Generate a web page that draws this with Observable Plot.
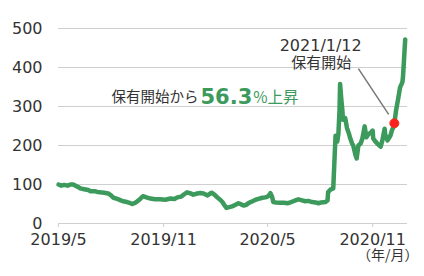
<!DOCTYPE html>
<html>
<head>
<meta charset="utf-8">
<script src="https://cdn.jsdelivr.net/npm/d3@7"></script>
<script src="https://cdn.jsdelivr.net/npm/@observablehq/plot@0.6"></script>
<style>
  html, body { margin: 0; padding: 0; background: #fff; }
</style>
</head>
<body>
<div id="chart"></div>
<script>
// ---- data ----
const dates = [
  "2019-05-01","2019-05-06","2019-05-11","2019-05-17","2019-05-22","2019-05-27","2019-05-31",
  "2019-06-05","2019-06-08","2019-06-15","2019-06-22","2019-06-26",
  "2019-07-03","2019-07-08","2019-07-13","2019-07-20","2019-07-27",
  "2019-08-01","2019-08-05","2019-08-12","2019-08-17","2019-08-22","2019-08-29",
  "2019-09-04","2019-09-07","2019-09-12","2019-09-16","2019-09-21","2019-09-26",
  "2019-10-02","2019-10-09","2019-10-17","2019-10-26",
  "2019-11-04","2019-11-13","2019-11-20","2019-11-25",
  "2019-12-02","2019-12-07","2019-12-12","2019-12-17","2019-12-23","2019-12-30",
  "2020-01-04","2020-01-10","2020-01-17","2020-01-24","2020-01-29",
  "2020-02-03","2020-02-08","2020-02-12","2020-02-15","2020-02-19","2020-02-24","2020-02-29",
  "2020-03-06","2020-03-11","2020-03-16","2020-03-20","2020-03-25","2020-03-28",
  "2020-04-03","2020-04-10","2020-04-15","2020-04-22","2020-04-27",
  "2020-05-01","2020-05-04","2020-05-06","2020-05-09","2020-05-11","2020-05-16","2020-05-23","2020-05-30",
  "2020-06-05","2020-06-10","2020-06-15","2020-06-20","2020-06-24","2020-06-29",
  "2020-07-06","2020-07-11","2020-07-18","2020-07-24","2020-07-29",
  "2020-08-03","2020-08-10","2020-08-14","2020-08-15","2020-08-19","2020-08-24","2020-08-28","2020-08-31",
  "2020-09-02","2020-09-04","2020-09-05","2020-09-07","2020-09-09","2020-09-10","2020-09-14","2020-09-17",
  "2020-09-21","2020-09-22","2020-09-26","2020-09-28",
  "2020-10-02","2020-10-04","2020-10-07","2020-10-11","2020-10-14","2020-10-18","2020-10-21","2020-10-25","2020-10-28",
  "2020-11-01","2020-11-02","2020-11-06","2020-11-09","2020-11-15","2020-11-18","2020-11-22","2020-11-23","2020-11-27",
  "2020-12-02","2020-12-05","2020-12-07","2020-12-09","2020-12-12","2020-12-16","2020-12-19","2020-12-23","2020-12-24",
  "2020-12-26","2020-12-28"
];
const values = [
  100,97,99,97,100,100,97,
  93,90,88,86,83,
  83,81,80,79,77,
  72,66,63,60,57,55,
  52,50,53,57,63,70,
  67,64,62,62,
  61,64,63,67,
  69,75,80,78,74,77,
  78,77,72,79,74,
  67,61,55,48,40,42,44,
  48,52,49,46,48,52,
  56,61,63,66,67,
  69,73,78,68,55,54,53,53,
  52,54,57,60,62,60,
  57,58,55,54,52,
  54,55,59,80,87,90,225,210,
  230,290,358,320,290,266,270,245,
  228,222,205,200,
  175,167,200,205,218,249,221,230,232,
  238,218,210,205,197,213,243,228,213,
  225,240,246,257,290,323,349,362,374,
  423,472
];
const tickDates = ["2019-05-01","2019-11-01","2020-05-01","2020-11-01"];
const tickLabels = ["2019/5","2019/11","2020/5","2020/11"];
const yTicks = [0,100,200,300,400,500];
const holdDate = "2020-12-09";
const holdValue = 257;
const holdLabel = "2021/1/12";
const holdText = "保有開始";
const riseLead = "保有開始から";
const risePct = "56.3";
const riseTail = "%上昇";
const unitLabel = "（年/月）";

// ---- build ----
const green = "#3b9a5c";
const data = dates.map((d, i) => ({date: new Date(d), value: values[i]}));
const tickMap = new Map(tickDates.map((d, i) => [+new Date(d), tickLabels[i]]));

const ctx = document.createElement("canvas").getContext("2d");
ctx.font = "bold 21px 'DejaVu Sans'";
const pctWidth = ctx.measureText(risePct).width;

const riseAnchor = [{date: new Date("2020-01-01"), value: 323}];
const noteDateAnchor = [{date: new Date("2020-08-02"), value: 456}];
const noteTextAnchor = [{date: new Date("2020-08-03"), value: 410}];
const leader = [{x1: new Date("2020-10-07"), y1: 397, x2: new Date("2020-11-29"), y2: 280}];

const chart = Plot.plot({
  width: 424,
  height: 276,
  marginLeft: 58,
  marginRight: 17,
  marginTop: 28,
  marginBottom: 53,
  style: {fontFamily: "'DejaVu Sans', 'Noto Sans CJK JP', sans-serif", fontSize: "16px", color: "#333", background: "#fff", overflow: "visible"},
  x: {type: "utc", domain: [new Date("2019-05-01"), new Date("2021-01-01")], label: null},
  y: {domain: [0, 500], label: null},
  marks: [
    Plot.gridY(yTicks, {stroke: "#cfcfcf", strokeOpacity: 1, strokeWidth: 1}),
    Plot.axisY(yTicks, {tickSize: 0, tickPadding: 16, fill: "#333", fontSize: 16, label: null}),
    Plot.axisX(tickDates.map(d => new Date(d)), {
      tickSize: 4, tickPadding: 6, stroke: "#cfcfcf", fill: "#333", fontSize: 16, label: null,
      tickFormat: d => tickMap.get(+d)
    }),
    Plot.line(data, {x: "date", y: "value", stroke: green, strokeWidth: 4.5, strokeLinejoin: "round", strokeLinecap: "round"}),
    Plot.link(leader, {x1: "x1", y1: "y1", x2: "x2", y2: "y2", stroke: "#777", strokeWidth: 1.5}),
    Plot.dot([{date: new Date(holdDate), value: holdValue}], {x: "date", y: "value", r: 4.5, fill: "#ff1e1e", stroke: "#e4361c", strokeWidth: 1}),
    Plot.text(noteDateAnchor, {x: "date", y: "value", text: () => holdLabel, fontSize: 16, fill: "#333", fontFamily: "'DejaVu Sans'"}),
    Plot.text(noteTextAnchor, {x: "date", y: "value", text: () => holdText, fontSize: 15, fill: "#333", fontFamily: "'Noto Sans CJK JP'"}),
    Plot.text(riseAnchor, {x: "date", y: "value", text: () => riseLead, textAnchor: "end", fontSize: 14.5, fill: "#333", fontFamily: "'Noto Sans CJK JP'"}),
    Plot.text(riseAnchor, {x: "date", y: "value", text: () => risePct, textAnchor: "start", dx: 2, fontSize: 21, fontWeight: "bold", fill: green, fontFamily: "'DejaVu Sans'"}),
    Plot.text(riseAnchor, {x: "date", y: "value", text: () => riseTail, textAnchor: "start", dx: 3 + pctWidth, dy: 1, fontSize: 15.5, fill: green, fontFamily: "'Noto Sans CJK JP'"}),
    Plot.text([0], {frameAnchor: "bottom-right", text: () => unitLabel, textAnchor: "end", dx: 11, dy: 36, fontSize: 14, fill: "#333", fontFamily: "'Noto Sans CJK JP'"})
  ]
});
document.getElementById("chart").appendChild(chart);
</script>
</body>
</html>
